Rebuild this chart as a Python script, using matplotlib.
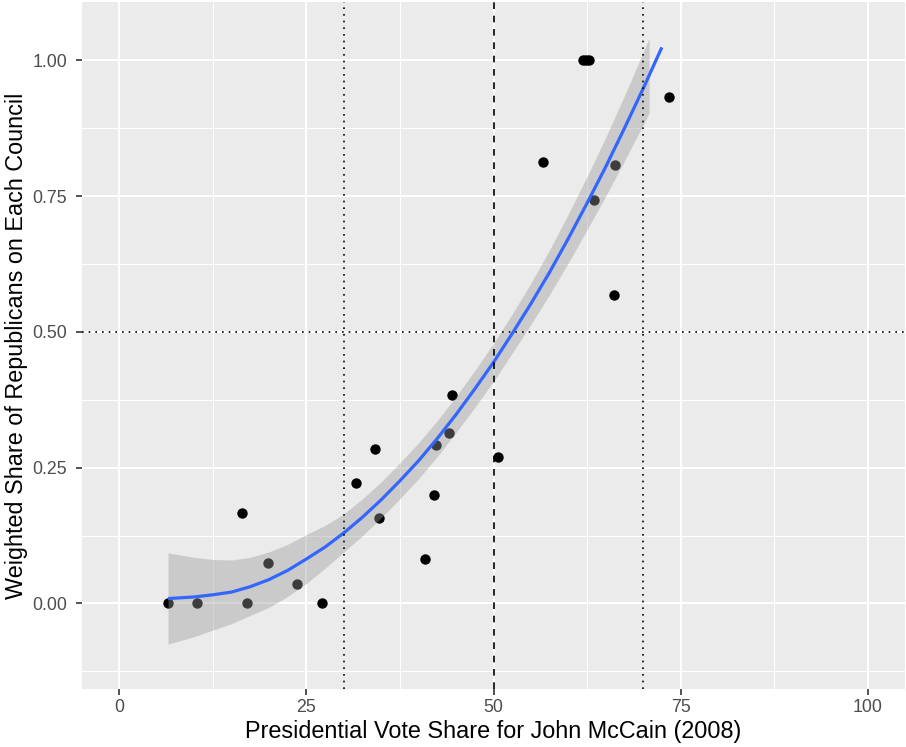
import matplotlib.pyplot as plt

# McCain 2008 vote share vs weighted Republican share per council
vote_share = [6.5, 10.4, 16.4, 17.1, 19.8, 23.8, 27.1, 31.6, 34.1, 34.7,
              40.9, 42.0, 42.3, 44.0, 44.4, 50.6, 56.6, 62.0, 62.4, 62.7,
              63.4, 66.2, 66.1, 73.4]
rep_share = [0.0, 0.0, 0.166, 0.0, 0.075, 0.035, 0.0, 0.221, 0.285, 0.157,
             0.082, 0.199, 0.292, 0.313, 0.384, 0.269, 0.812, 1.0, 1.0, 1.0,
             0.742, 0.808, 0.568, 0.933]

# smoothed fit (quadratic lm)
fit_x = [6.5, 10, 12.5, 15, 17.5, 20, 22.5, 25, 27.5, 30, 32.5, 35, 37.5,
         40, 42.5, 45, 47.5, 50, 52.5, 55, 57.5, 60, 62.5, 65, 67.5, 70, 72.5]
fit_y = [0.009, 0.012, 0.016, 0.021, 0.031, 0.044, 0.061, 0.082, 0.104,
         0.130, 0.159, 0.191, 0.226, 0.263, 0.304, 0.348, 0.395, 0.444,
         0.497, 0.552, 0.610, 0.672, 0.737, 0.804, 0.875, 0.948, 1.024]
# confidence band (stops where it leaves the y limits)
band_x = [6.5, 10, 12.5, 15, 17.5, 20, 22.5, 25, 27.5, 30, 32.5, 35, 37.5,
          40, 42.5, 45, 47.5, 50, 52.5, 55, 57.5, 60, 62.5, 65, 67.5, 70, 70.8]
band_lo = [-0.075, -0.061, -0.049, -0.037, -0.022, -0.007, 0.013, 0.037,
           0.065, 0.095, 0.125, 0.158, 0.193, 0.230, 0.271, 0.315, 0.361,
           0.409, 0.461, 0.514, 0.569, 0.627, 0.688, 0.750, 0.815, 0.881,
           0.903]
band_hi = [0.093, 0.085, 0.081, 0.080, 0.085, 0.095, 0.109, 0.127, 0.144,
           0.165, 0.193, 0.224, 0.259, 0.296, 0.337, 0.381, 0.429, 0.479,
           0.533, 0.590, 0.651, 0.717, 0.786, 0.858, 0.935, 1.015, 1.041]

x_ticks = [0, 25, 50, 75, 100]
y_ticks = [0.0, 0.25, 0.5, 0.75, 1.0]
y_tick_labels = ["0.00", "0.25", "0.50", "0.75", "1.00"]
x_lim = (0, 100)
y_lim = (-0.1, 1.05)

plt.rcParams["font.family"] = ["Liberation Sans", "DejaVu Sans"]

fig = plt.figure(figsize=(9.06, 7.47), dpi=100)
ax = fig.add_axes([82 / 906, 1 - 689 / 747, 823 / 906, 687 / 747])
ax.set_facecolor("#EBEBEB")
for s in ax.spines.values():
    s.set_visible(False)

# ggplot-style 5% expansion
xr = (x_lim[1] - x_lim[0]) * 0.05
yr = (y_lim[1] - y_lim[0]) * 0.05
ax.set_xlim(x_lim[0] - xr, x_lim[1] + xr)
ax.set_ylim(y_lim[0] - yr, y_lim[1] + yr)

# grid
for v in [12.5, 37.5, 62.5, 87.5]:
    ax.axvline(v, color="white", lw=0.75, zorder=0.5)
for v in [-0.125, 0.125, 0.375, 0.625, 0.875]:
    ax.axhline(v, color="white", lw=0.75, zorder=0.5)
for v in x_ticks:
    ax.axvline(v, color="white", lw=1.5, zorder=0.6)
for v in y_ticks:
    ax.axhline(v, color="white", lw=1.5, zorder=0.6)

ax.scatter(vote_share, rep_share, s=56, color="black", linewidths=0, zorder=2)
ax.fill_between(band_x, band_lo, band_hi, color="#999999",
                alpha=0.4, linewidth=0, zorder=3)
ax.plot(fit_x, fit_y, color="#3366FF", lw=2.3, zorder=4,
        solid_capstyle="butt", solid_joinstyle="round")

ax.axvline(30, color="black", lw=1.2, linestyle=(0, (1, 3)), zorder=5)
ax.axvline(70, color="black", lw=1.2, linestyle=(0, (1, 3)), zorder=5)
ax.axvline(50, color="black", lw=1.2, linestyle=(0, (4, 4)), zorder=5)
ax.axhline(0.5, color="black", lw=1.2, linestyle=(0, (1, 3)), zorder=5)

ax.set_xticks(x_ticks)
ax.set_xticklabels([str(t) for t in x_ticks])
ax.set_yticks(y_ticks)
ax.set_yticklabels(y_tick_labels)
ax.tick_params(axis="both", length=4.2, width=1.2, color="#333333",
               labelcolor="#4D4D4D", labelsize=12.8)
ax.tick_params(axis="x", pad=3)
ax.tick_params(axis="y", pad=6.5)

ax.set_xlabel("Presidential Vote Share for John McCain (2008)", fontsize=16.8,
              labelpad=3)
ax.set_ylabel("Weighted Share of Republicans on Each Council", fontsize=16.8,
              labelpad=3)

fig.savefig("out.png", dpi=100)
